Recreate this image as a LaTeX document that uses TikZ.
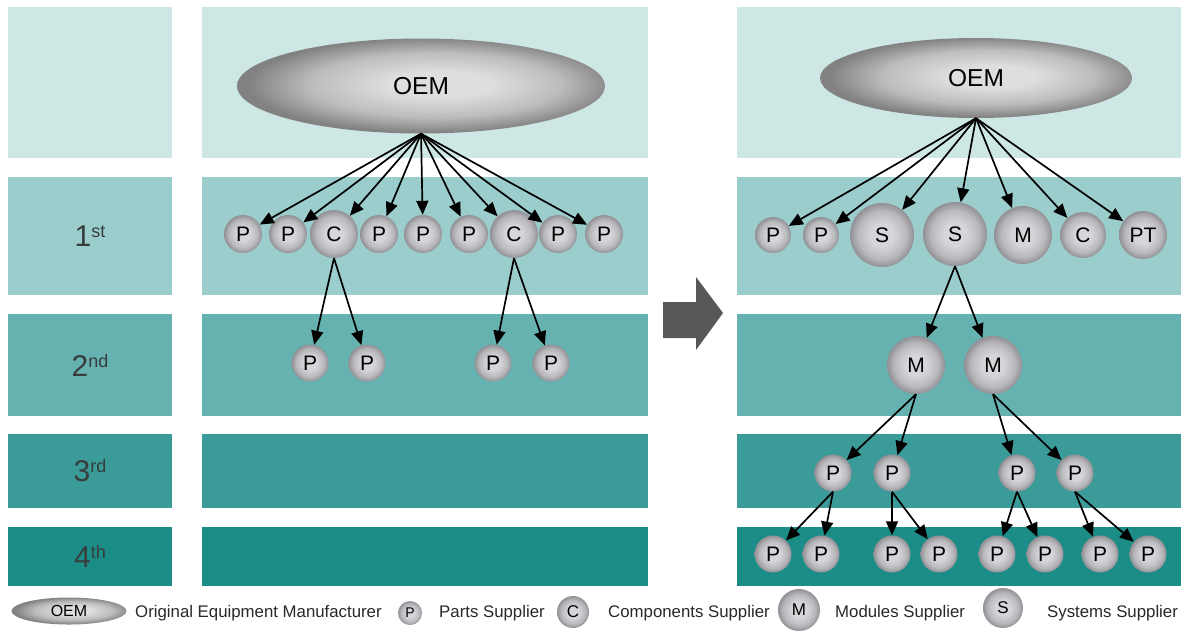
\documentclass[tikz,border=0pt]{standalone}
\usepackage{fontspec}
\setmainfont{Liberation Sans}
\usetikzlibrary{shapes.geometric,arrows.meta}

% tier band colours, lightest (OEM) to darkest (4th tier)
\definecolor{tier0}{RGB}{205,231,229}
\definecolor{tier1}{RGB}{155,205,205}
\definecolor{tier2}{RGB}{102,178,177}
\definecolor{tier3}{RGB}{58,155,152}
\definecolor{tier4}{RGB}{27,141,134}
\definecolor{labelgray}{RGB}{55,60,60}
\definecolor{keygray}{RGB}{40,40,40}
\definecolor{shiftgray}{RGB}{88,88,88}
\definecolor{sphA}{RGB}{214,214,218}
\definecolor{sphB}{RGB}{184,184,188}
\definecolor{sphC}{RGB}{145,145,149}
\definecolor{oemA}{RGB}{222,222,222}
\definecolor{oemB}{RGB}{188,188,188}
\definecolor{oemC}{RGB}{130,130,130}

\pgfdeclareradialshading{sphere}{\pgfpoint{0bp}{0bp}}{%
  color(0bp)=(sphA); color(9bp)=(sphA); color(19bp)=(sphB);
  color(25bp)=(sphC); color(50bp)=(sphC)}
\pgfdeclareradialshading{oemshade}{\pgfpoint{3bp}{1bp}}{%
  color(0bp)=(oemA); color(7bp)=(oemA); color(17bp)=(oemB);
  color(25bp)=(oemC); color(50bp)=(oemC)}

\newcommand{\tiersup}[1]{\raisebox{9pt}{\fontsize{18}{18}\selectfont #1}}

\tikzset{
  oem/.style={ellipse, inner sep=0pt, shade, shading=oemshade, text=black},
  ball/.style={circle, inner sep=0pt, shade, shading=sphere, text=black,
    minimum size=#1pt, font=\fontsize{21}{24}\selectfont},
  keyball/.style={circle, inner sep=0pt, shade, shading=sphere, text=black,
    minimum size=#1pt},
  link/.style={line width=1.7pt, black, -{Triangle[length=14pt,width=12pt]}},
  tierlabel/.style={text=labelgray, inner sep=0pt, font=\fontsize{30}{36}\selectfont},
  keytext/.style={anchor=base west, inner sep=0pt, text=keygray,
    font=\fontsize{16.8}{20}\selectfont},
}

\begin{document}
\begin{tikzpicture}[x=1pt,y=-1pt]
\useasboundingbox (0,0) rectangle (1182,630);

% ---- tier bands: label column, current structure, new structure
\foreach \c/\ya/\yb in {tier0/7/158, tier1/177/295, tier2/314/416, tier3/434/508, tier4/527/586}{
  \fill[\c] (8,\ya) rectangle (172,\yb);
  \fill[\c] (202,\ya) rectangle (648,\yb);
  \fill[\c] (737,\ya) rectangle (1181,\yb);
}

% ---- tier labels
\node[tierlabel] (t1) at (90,236) {1\tiersup{st}};
\node[tierlabel] (t2) at (90,365) {2\tiersup{nd}};
\node[tierlabel] (t3) at (90,471) {3\tiersup{rd}};
\node[tierlabel] (t4) at (90,556) {4\tiersup{th}};

% ---- shift arrow between the two structures
\fill[shiftgray] (663,302) -- (696,302) -- (696,277) -- (723,313)
  -- (696,350) -- (696,338) -- (663,338) -- cycle;

% ---- traditional structure
\node[oem, minimum width=368pt, minimum height=95pt,
  font=\fontsize{24.5}{28}\selectfont] (oemL) at (421,86) {OEM};

\node[ball=38] (L1a) at (243,234) {P};
\node[ball=38] (L1b) at (288,234) {P};
\node[ball=48] (L1c) at (334,234) {C};
\node[ball=38] (L1d) at (379,234) {P};
\node[ball=38] (L1e) at (423,234) {P};
\node[ball=38] (L1f) at (469,234) {P};
\node[ball=48] (L1g) at (514,234) {C};
\node[ball=38] (L1h) at (558,234) {P};
\node[ball=38] (L1i) at (604,234) {P};

\node[ball=37] (L2a) at (310,363) {P};
\node[ball=37] (L2b) at (367,363) {P};
\node[ball=37] (L2c) at (493,363) {P};
\node[ball=37] (L2d) at (551,363) {P};

\foreach \n in {L1a,L1b,L1c,L1d,L1e,L1f,L1g,L1h,L1i}
  \draw[link] (oemL.south) -- (\n);
\draw[link] (L1c.south) -- (L2a);
\draw[link] (L1c.south) -- (L2b);
\draw[link] (L1g.south) -- (L2c);
\draw[link] (L1g.south) -- (L2d);

% ---- modular structure
\node[oem, minimum width=312pt, minimum height=80pt,
  font=\fontsize{24.5}{28}\selectfont] (oemR) at (976,78) {OEM};

\node[ball=36] (R1a) at (773,235) {P};
\node[ball=36] (R1b) at (821,235) {P};
\node[ball=64] (R1c) at (882,235) {S};
\node[ball=64] (R1d) at (955,234) {S};
\node[ball=58] (R1e) at (1023,235) {M};
\node[ball=46] (R1f) at (1083,235) {C};
\node[ball=48] (R1g) at (1143,235) {PT};

\node[ball=58] (R2a) at (916,365) {M};
\node[ball=58] (R2b) at (993,365) {M};

\node[ball=37] (R3a) at (833,473) {P};
\node[ball=37] (R3b) at (892,473) {P};
\node[ball=37] (R3c) at (1017,473) {P};
\node[ball=37] (R3d) at (1075,473) {P};

\node[ball=37] (R4a) at (773,554) {P};
\node[ball=37] (R4b) at (821,554) {P};
\node[ball=37] (R4c) at (892,554) {P};
\node[ball=37] (R4d) at (939,554) {P};
\node[ball=37] (R4e) at (997,554) {P};
\node[ball=37] (R4f) at (1045,554) {P};
\node[ball=37] (R4g) at (1100,554) {P};
\node[ball=37] (R4h) at (1148,554) {P};

\foreach \n in {R1a,R1b,R1c,R1d,R1e,R1f,R1g}
  \draw[link] (oemR.south) -- (\n);
\draw[link] (R1d.south) -- (R2a);
\draw[link] (R1d.south) -- (R2b);
\draw[link] (R2a.south) -- (R3a);
\draw[link] (R2a.south) -- (R3b);
\draw[link] (R2b.south) -- (R3c);
\draw[link] (R2b.south) -- (R3d);
\draw[link] (R3a.south) -- (R4a);
\draw[link] (R3a.south) -- (R4b);
\draw[link] (R3b.south) -- (R4c);
\draw[link] (R3b.south) -- (R4d);
\draw[link] (R3c.south) -- (R4e);
\draw[link] (R3c.south) -- (R4f);
\draw[link] (R3d.south) -- (R4g);
\draw[link] (R3d.south) -- (R4h);

% ---- legend
\node[oem, minimum width=115pt, minimum height=27pt,
  font=\fontsize{16}{18}\selectfont] (kOEM) at (69,611) {OEM};
\node[keytext] (kOEMt) at (135,617.5) {Original Equipment Manufacturer};
\node[keyball=24, font=\fontsize{14}{16}\selectfont] (kP) at (410,613) {P};
\node[keytext] (kPt) at (439,617.5) {Parts Supplier};
\node[keyball=32, font=\fontsize{17}{19}\selectfont] (kC) at (573,612) {C};
\node[keytext] (kCt) at (608,617.5) {Components Supplier};
\node[keyball=42, font=\fontsize{17}{19}\selectfont] (kM) at (799,610) {M};
\node[keytext] (kMt) at (835,617.5) {Modules Supplier};
\node[keyball=40, font=\fontsize{17}{19}\selectfont] (kS) at (1003,608) {S};
\node[keytext] (kSt) at (1047,617.5) {Systems Supplier};
\end{tikzpicture}
\end{document}
